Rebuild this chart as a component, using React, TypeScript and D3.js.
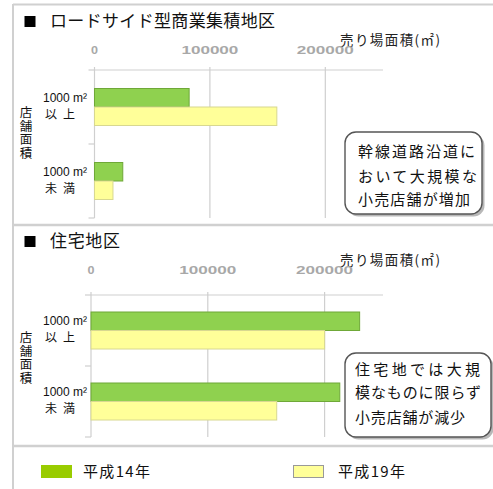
import React from "react";
import * as d3 from "d3";

const categories = ["以上", "未満"];
const categoryArea = ["1000 m²", "1000 m²"];
const categoryWords = [["以", "上"], ["未", "満"]];
const axisTitle = "店舗面積";
const seriesNames = ["平成14年", "平成19年"];
const roadsideH14 = [82000, 24500];
const roadsideH19 = [158000, 16000];
const residentialH14 = [230000, 213000];
const residentialH19 = [200000, 159000];
const xTicks = [0, 100000, 200000];
const roadsideNote = ["幹線道路沿道に", "おいて大規模な", "小売店舗が増加"];
const residentialNote = ["住宅地では大規", "模なものに限らず", "小売店舗が減少"];

const FONT = "'Noto Sans CJK JP', 'Noto Sans', sans-serif";
const LATIN = "'Liberation Sans', Arial, sans-serif";
const GREEN = "#8fd14f";
const GREEN_STROKE = "#6fa838";
const YELLOW = "#ffff99";
const YELLOW_STROKE = "#d8d890";

type PanelProps = {
  title: string;
  titleW: number;
  top: number;
  x0: number;
  axisY: number;
  bottomY: number;
  h14: number[];
  h19: number[];
  note: string[];
  box: { x: number; y: number; w: number; h: number };
  noteX: number;
  noteYs: number[];
  noteWidths: number[];
};

function Panel(p: PanelProps) {
  const x = d3.scaleLinear().domain([0, 250000]).range([p.x0, 383]);
  const y = d3.scaleBand<string>().domain(categories).range([p.axisY, p.bottomY]);
  const barH = 18.5;
  return (
    <g>
      <rect x={24.5} y={p.top + 12} width={11} height={11} fill="#000" />
      <text x={50} y={p.top + 23} fontSize={17} fontFamily={FONT} fill="#111" textLength={p.titleW} lengthAdjust="spacing">{p.title}</text>
      <text x={340} y={p.top + 41} fontSize={13.5} fontFamily={FONT} fill="#222" textLength={100} lengthAdjust="spacing">売り場面積(㎡)</text>
      {xTicks.map((t) => (
        <text key={t} x={x(t)} y={p.top + 50} fontSize={11} fontWeight="bold" fontFamily={LATIN} fill="#a8a8a8" textAnchor="middle" textLength={t === 0 ? 7 : 57} lengthAdjust="spacingAndGlyphs">{t}</text>
      ))}
      <line x1={p.x0} x2={383} y1={p.axisY} y2={p.axisY} stroke="#cfcfcf" strokeWidth={1.2} />
      {xTicks.slice(1).map((t) => (
        <line key={t} x1={x(t)} x2={x(t)} y1={p.axisY - 3} y2={p.bottomY} stroke="#cfcfcf" strokeWidth={1.2} />
      ))}
      <line x1={p.x0} x2={p.x0} y1={p.axisY - 3} y2={p.bottomY} stroke="#cfcfcf" strokeWidth={1.2} />
      {[p.axisY, (p.axisY + p.bottomY) / 2, p.bottomY].map((v, i) => (
        <line key={i} x1={p.x0 - 6} x2={p.x0} y1={v} y2={v} stroke="#cfcfcf" strokeWidth={1.2} />
      ))}
      {categories.map((c, i) => {
        const cy = (y(c) as number) + y.bandwidth() / 2;
        return (
          <g key={c}>
            <rect x={x(0)} y={cy - barH} width={x(p.h14[i]) - x(0)} height={barH} fill={GREEN} stroke={GREEN_STROKE} strokeWidth={1} />
            <rect x={x(0)} y={cy} width={x(p.h19[i]) - x(0)} height={barH} fill={YELLOW} stroke={YELLOW_STROKE} strokeWidth={1} />
            <text x={43} y={cy - 5.5} fontSize={12} fontFamily={LATIN} fill="#111">{categoryArea[i]}</text>
            <text x={45} y={cy + 11.5} fontSize={12} fontFamily={FONT} fill="#111">{categoryWords[i][0]}</text>
            <text x={63} y={cy + 11.5} fontSize={12} fontFamily={FONT} fill="#111">{categoryWords[i][1]}</text>
          </g>
        );
      })}
      <text
        x={26}
        y={p.axisY + 36}
        fontSize={12.5}
        fontFamily={FONT}
        fill="#111"
        letterSpacing={1}
        style={{ writingMode: "vertical-rl" } as React.CSSProperties}
      >
        {axisTitle}
      </text>
      <rect x={p.box.x + 2.5} y={p.box.y + 2.5} width={p.box.w} height={p.box.h} rx={11} fill="#888" opacity={0.6} />
      <rect x={p.box.x} y={p.box.y} width={p.box.w} height={p.box.h} rx={11} fill="#fff" stroke="#555" strokeWidth={1.4} />
      {p.note.map((line, i) => (
        <text key={i} x={p.noteX} y={p.noteYs[i]} fontSize={15} fontFamily={FONT} fill="#111" textLength={p.noteWidths[i]} lengthAdjust="spacing">{line}</text>
      ))}
    </g>
  );
}

export default function App() {
  return (
    <svg width={493} height={489} style={{ position: "absolute", left: 0, top: 0, background: "#fff" }}>
      <rect x={0} y={0} width={493} height={489} fill="#fff" />
      <line x1={13} x2={493} y1={4.5} y2={4.5} stroke="#d0d0d0" strokeWidth={2} />
      <line x1={13} x2={13} y1={4} y2={489} stroke="#d0d0d0" strokeWidth={2} />
      <line x1={13} x2={493} y1={225} y2={225} stroke="#d0d0d0" strokeWidth={2.5} />
      <line x1={13} x2={493} y1={446} y2={446} stroke="#d0d0d0" strokeWidth={2.5} />
      <Panel
        title="ロードサイド型商業集積地区"
        titleW={225}
        top={4}
        x0={94.5}
        axisY={70}
        bottomY={218}
        h14={roadsideH14}
        h19={roadsideH19}
        note={roadsideNote}
        box={{ x: 345, y: 132, w: 137, h: 82 }}
        noteX={358}
        noteYs={[157, 182, 205]}
        noteWidths={[117, 119, 112]}
      />
      <Panel
        title="住宅地区"
        titleW={70}
        top={224}
        x0={91}
        axisY={295}
        bottomY={437}
        h14={residentialH14}
        h19={residentialH19}
        note={residentialNote}
        box={{ x: 345, y: 353, w: 146, h: 84 }}
        noteX={355}
        noteYs={[375, 398, 423]}
        noteWidths={[125, 126, 110]}
      />
      <rect x={41} y={465} width={31} height={13} fill="#99cc00" />
      <text x={83} y={477} fontSize={15} fontFamily={FONT} fill="#111" textLength={67} lengthAdjust="spacing">{seriesNames[0]}</text>
      <rect x={293.5} y={465.5} width={30} height={12} fill={YELLOW} stroke="#999" strokeWidth={1} />
      <text x={338} y={477} fontSize={15} fontFamily={FONT} fill="#111" textLength={67} lengthAdjust="spacing">{seriesNames[1]}</text>
    </svg>
  );
}
